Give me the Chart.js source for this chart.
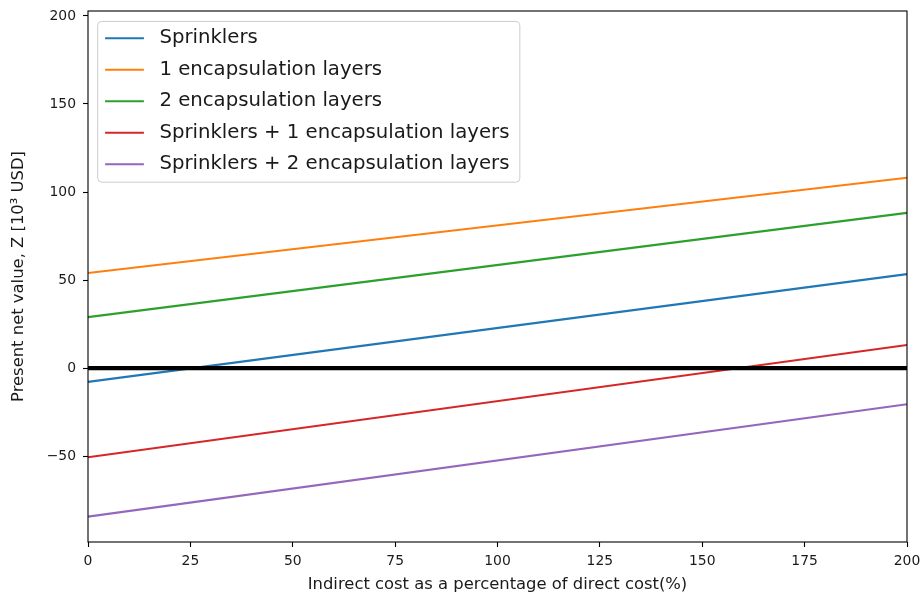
<!DOCTYPE html>
<html>
<head>
<meta charset="utf-8">
<script src="https://cdn.jsdelivr.net/npm/chart.js@4.4.0/dist/chart.umd.min.js"></script>
<style>
  html, body { margin: 0; padding: 0; background: #fff; }
  canvas { display: block; }
</style>
</head>
<body>
<canvas id="chart" width="923" height="597"></canvas>
<script>
// indirect cost (% of direct cost) at the two ends of each line
const indirectCost = [0, 200];

// present net value, 10^3 USD
const sprinklers   = [-7.8, 53.4];
const oneLayer     = [54.0, 108.1];
const twoLayers    = [29.0, 88.2];
const sprOneLayer  = [-50.6, 13.2];
const sprTwoLayers = [-84.3, -20.5];
const zeroLine     = [0, 0];

const seriesLabels = [
    'Sprinklers',
    '1 encapsulation layers',
    '2 encapsulation layers',
    'Sprinklers + 1 encapsulation layers',
    'Sprinklers + 2 encapsulation layers'
];
const seriesColors = ['#1f77b4', '#ff7f0e', '#2ca02c', '#d62728', '#9467bd'];

const xTicks = [0, 25, 50, 75, 100, 125, 150, 175, 200];
const yTicks = [-50, 0, 50, 100, 150, 200];

const FONT = 'DejaVu Sans';
const TICK_SIZE = 13.9;
const TITLE_SIZE = 16.4;
const LEGEND_SIZE = 19.7;
const TEXT_COLOR = '#1a1a1a';

function toPoints(values) {
    return values.map((v, i) => ({ x: indirectCost[i], y: v }));
}

// matplotlib uses a real minus sign
var fmt = (v) => String(v).replace('-', '\u2212');

// full box around the axes, like matplotlib spines
const framePlugin = {
    id: 'frame',
    afterDatasetsDraw(chart) {
        var a = chart.chartArea, ctx = chart.ctx;
        ctx.save();
        ctx.strokeStyle = '#000';
        ctx.lineWidth = 1.1;
        ctx.strokeRect(a.left, a.top, a.right - a.left, a.bottom - a.top);
        ctx.restore();
    }
};

// legend boxed inside the upper left corner of the plot
const boxLegendPlugin = {
    id: 'boxLegend',
    afterDraw(chart) {
        var a = chart.chartArea, ctx = chart.ctx;
        var items = chart.data.datasets.filter(ds => ds.label);
        var handle = 38.8, gap = 15.5, pad = 7.4, rowH = 31.5;

        ctx.save();
        ctx.font = LEGEND_SIZE + 'px "' + FONT + '"';
        var maxW = 0;
        items.forEach(ds => { maxW = Math.max(maxW, ctx.measureText(ds.label).width); });

        var x = a.left + 9.7, y = a.top + 10.4;
        var w = pad + handle + gap + maxW + pad + 3;
        var h = 16.8 + rowH * (items.length - 1) + 18;

        ctx.beginPath();
        ctx.roundRect(x, y, w, h, 4);
        ctx.fillStyle = 'rgba(255,255,255,0.8)';
        ctx.fill();
        ctx.strokeStyle = '#cccccc';
        ctx.lineWidth = 1;
        ctx.stroke();

        items.forEach((ds, i) => {
            var cy = y + 16.8 + i * rowH;
            ctx.beginPath();
            ctx.moveTo(x + pad, cy);
            ctx.lineTo(x + pad + handle, cy);
            ctx.strokeStyle = ds.borderColor;
            ctx.lineWidth = 2.1;
            ctx.stroke();
            ctx.fillStyle = TEXT_COLOR;
            ctx.textBaseline = 'middle';
            ctx.textAlign = 'left';
            ctx.fillText(ds.label, x + pad + handle + gap, cy);
        });
        ctx.restore();
    }
};

var seriesData = [sprinklers, oneLayer, twoLayers, sprOneLayer, sprTwoLayers];

var datasets = seriesData.map((values, i) => ({
    label: seriesLabels[i],
    data: toPoints(values),
    borderColor: seriesColors[i],
    borderWidth: 2.1,
    pointRadius: 0,
    fill: false,
    order: 10 - i
}));

datasets.push({
    label: '',
    data: toPoints(zeroLine),
    borderColor: '#000',
    borderWidth: 4.2,
    pointRadius: 0,
    fill: false,
    order: 0
});

Chart.defaults.font.family = FONT;
Chart.defaults.color = TEXT_COLOR;

var ctx = document.getElementById('chart').getContext('2d');

new Chart(ctx, {
    type: 'line',
    data: { datasets: datasets },
    options: {
        responsive: false,
        animation: false,
        layout: { padding: { left: 0, top: 11, right: 16, bottom: 0 } },
        plugins: {
            legend: { display: false },
            tooltip: { enabled: false }
        },
        scales: {
            x: {
                type: 'linear',
                min: 0,
                max: 200,
                border: { display: false },
                grid: { drawOnChartArea: false, tickLength: 5, tickColor: '#000', tickWidth: 1.1 },
                ticks: { font: { size: TICK_SIZE }, color: TEXT_COLOR, padding: 6, maxRotation: 0 },
                title: {
                    display: true,
                    text: 'Indirect cost as a percentage of direct cost(%)',
                    font: { size: TITLE_SIZE },
                    color: TEXT_COLOR,
                    padding: { top: 0, bottom: 2.6 }
                },
                afterBuildTicks: (scale) => { scale.ticks = xTicks.map(v => ({ value: v })); },
                afterFit: (scale) => {
                    scale.height = 55;
                    scale.paddingLeft = 0;
                    scale.paddingRight = 0;
                }
            },
            y: {
                type: 'linear',
                min: -98.7,
                max: 202.8,
                border: { display: false },
                grid: { drawOnChartArea: false, tickLength: 5, tickColor: '#000', tickWidth: 1.1 },
                ticks: {
                    font: { size: TICK_SIZE },
                    color: TEXT_COLOR,
                    padding: 7,
                    callback: (v) => fmt(v)
                },
                title: {
                    display: true,
                    text: 'Present net value, Z [10\u00b3 USD]',
                    font: { size: TITLE_SIZE },
                    color: TEXT_COLOR,
                    padding: { top: 8.5, bottom: 0 }
                },
                afterBuildTicks: (scale) => { scale.ticks = yTicks.map(v => ({ value: v })); },
                afterFit: (scale) => {
                    scale.width = 88;
                    scale.paddingTop = 0;
                    scale.paddingBottom = 0;
                }
            }
        }
    },
    plugins: [framePlugin, boxLegendPlugin]
});
</script>
</body>
</html>
